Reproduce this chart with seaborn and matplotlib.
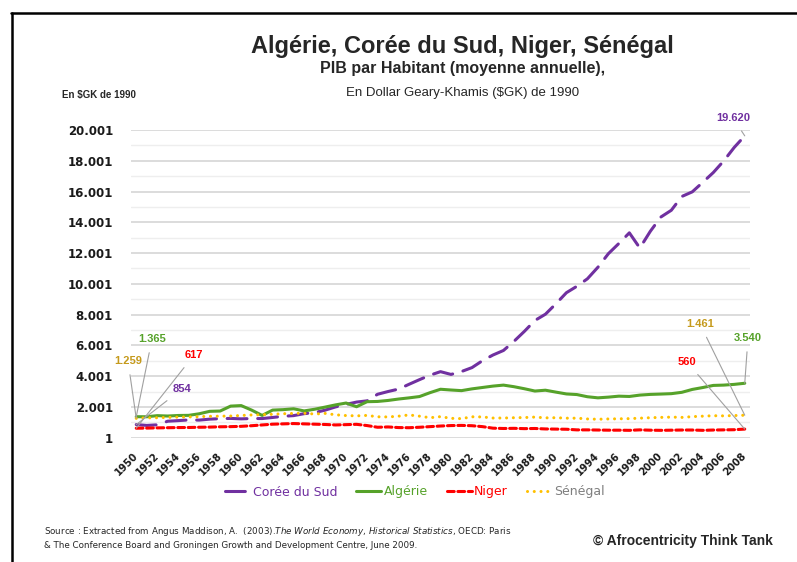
import matplotlib
matplotlib.use("Agg")
import matplotlib.pyplot as plt
from matplotlib.lines import Line2D
import pandas as pd
import seaborn as sns

# PIB par habitant, $GK de 1990, 1950-2008
annees = list(range(1950, 2009))
coree = [854, 799, 838, 1072, 1111, 1157, 1144, 1207, 1238, 1254,
         1226, 1247, 1245, 1316, 1393, 1436, 1563, 1630, 1791, 2003,
         2167, 2317, 2396, 2824, 3002, 3161, 3472, 3775, 4064, 4294,
         4114, 4302, 4557, 5007, 5375, 5670, 6263, 6916, 7621, 8027,
         8704, 9425, 9844, 10328, 11078, 11961, 12626, 13317, 12330, 13418,
         14343, 14784, 15680, 15982, 16602, 17234, 17995, 18872, 19620]
algerie = [1365, 1362, 1434, 1410, 1445, 1454, 1556, 1715, 1735, 2055,
           2088, 1794, 1450, 1796, 1824, 1881, 1742, 1850, 1990, 2134,
           2254, 2014, 2341, 2357, 2422, 2514, 2590, 2676, 2928, 3150,
           3101, 3060, 3175, 3265, 3355, 3419, 3316, 3183, 3034, 3088,
           2964, 2845, 2805, 2664, 2592, 2638, 2701, 2681, 2770, 2815,
           2837, 2863, 2951, 3139, 3262, 3399, 3420, 3467, 3540]
niger = [617, 625, 640, 650, 660, 665, 680, 690, 710, 720,
         740, 780, 830, 880, 900, 920, 900, 880, 860, 830,
         850, 870, 790, 680, 700, 660, 650, 680, 720, 760,
         790, 800, 780, 720, 620, 600, 610, 590, 600, 570,
         560, 550, 510, 510, 500, 490, 490, 480, 510, 490,
         480, 490, 500, 500, 480, 500, 510, 520, 560]
senegal = [1259, 1290, 1300, 1320, 1340, 1350, 1370, 1390, 1400, 1410,
           1445, 1480, 1500, 1520, 1560, 1580, 1590, 1540, 1580, 1490,
           1440, 1420, 1450, 1360, 1350, 1400, 1480, 1400, 1300, 1370,
           1260, 1240, 1360, 1350, 1280, 1280, 1300, 1310, 1340, 1290,
           1300, 1270, 1270, 1220, 1200, 1220, 1230, 1240, 1270, 1300,
           1320, 1340, 1320, 1370, 1400, 1430, 1420, 1440, 1461]

pays = ["Corée du Sud", "Algérie", "Niger", "Sénégal"]
series = [coree, algerie, niger, senegal]
couleurs = ["#7030A0", "#56A22A", "#FF0000", "#FFC000"]
couleurs_texte = ["#7030A0", "#56A22A", "#FF0000", "#7F7F7F"]
styles = [(0, (6.5, 3.5)), "-", (0, (2.2, 1.2)), (0, (0.01, 2.2))]
y_ticks = list(range(1, 20002, 2000))
x_ticks = list(range(1950, 2009, 2))

W, H = 797, 562


def fr(v):
    return f"{v:,.0f}".replace(",", ".")


def pos(x, y):
    return x / W, 1 - y / H


sns.set_theme(style="white")
plt.rcParams["font.family"] = ["DejaVu Sans"]

fig = plt.figure(figsize=(W / 100, H / 100), dpi=100)
ax = fig.add_axes([131 / W, 1 - 437.7 / H, (750 - 131) / W, (437.7 - 130) / H])

df = pd.DataFrame({"annee": annees * 4,
                   "pib": sum(series, []),
                   "pays": sum([[p] * len(annees) for p in pays], [])})

for p, c, ls in zip(pays, couleurs, styles):
    sns.lineplot(data=df[df["pays"] == p], x="annee", y="pib", color=c,
                 linestyle=ls, lw=2.2, ax=ax, zorder=3)
for line in ax.get_lines():
    line.set_dash_capstyle("round")
    line.set_solid_capstyle("round")
    line.set_clip_on(False)

ax.set_xlim(1949.5, 2008.5)
ax.set_ylim(1, 20001)
ax.set_yticks(y_ticks)
ax.set_yticks([v + 1000 for v in y_ticks[:-1]], minor=True)
ax.set_yticklabels([fr(v) for v in y_ticks], fontsize=8.5, fontweight="bold", color="#1a1a1a")
ax.set_xticks(x_ticks)
ax.set_xticklabels([str(a) for a in x_ticks], rotation=45, ha="right", va="center",
                   rotation_mode="anchor", fontsize=7.2, fontweight="bold", color="#1a1a1a")
ax.tick_params(axis="y", which="both", length=0, pad=13)
ax.tick_params(axis="x", length=0, pad=12)
ax.grid(axis="y", which="major", color="#d9d9d9", lw=1.3)
ax.grid(axis="y", which="minor", color="#eeeeee", lw=1.0)
ax.set_xlabel("")
ax.set_ylabel("")
for s in ax.spines.values():
    s.set_visible(False)

# étiquettes de début et de fin
gris = "#a0a0a0"
etiquettes = [
    (0, 0, (182, 389)), (1, 0, (152, 339)), (2, 0, (194, 355)), (3, 0, (128, 361)),
    (0, -1, (733, 118)), (1, -1, (748, 338)), (2, -1, (687, 362)), (3, -1, (700, 324)),
]
for i, k, (tx, ty) in etiquettes:
    v = series[i][k]
    coul = couleurs[i] if i != 3 else "#C59A1C"
    ax.annotate(fr(v), xy=(annees[k], v), xytext=(tx, H - ty), textcoords="figure pixels",
                ha="center", va="center", fontsize=8, fontweight="bold", color=coul,
                family="Liberation Sans",
                arrowprops=dict(arrowstyle="-", color=gris, lw=0.8, shrinkA=4, shrinkB=0))

# titres
fig.text(*pos(462, 46), "Algérie, Corée du Sud, Niger, Sénégal", ha="center", va="center",
         fontsize=17, fontweight="bold", family="Liberation Sans")
fig.text(*pos(463, 69), "PIB par Habitant (moyenne annuelle),", ha="center", va="center",
         fontsize=11.5, fontweight="bold", family="Liberation Sans")
fig.text(*pos(463, 93), "En Dollar Geary-Khamis ($GK) de 1990", ha="center", va="center",
         fontsize=9.5, family="Liberation Sans")
fig.text(*pos(62, 95), "En $GK de 1990", ha="left", va="center",
         fontsize=7, fontweight="bold", family="Liberation Sans")

# légende
poignees = [Line2D([], [], color=c, lw=2.2, linestyle=ls, dash_capstyle="round")
            for c, ls in zip(couleurs, styles)]
leg = fig.legend(poignees, pays, loc="center", bbox_to_anchor=pos(415, 492), ncol=4,
                 frameon=False, fontsize=9, handlelength=2.0, handletextpad=0.2,
                 columnspacing=1.5)
for t, c in zip(leg.get_texts(), couleurs_texte):
    t.set_color(c)

# source
fig.text(*pos(44, 531), "Source : Extracted from Angus Maddison, A.  (2003).$\\it{The\\ World\\ Economy}$, "
         "$\\it{Historical\\ Statistics}$, OECD: Paris", ha="left", va="center", fontsize=6.3,
         family="DejaVu Sans")
fig.text(*pos(44, 545), "& The Conference Board and Groningen Growth and Development Centre, June 2009.",
         ha="left", va="center", fontsize=6.3, family="DejaVu Sans")
fig.text(*pos(773, 541), "© Afrocentricity Think Tank", ha="right", va="center",
         fontsize=10, fontweight="bold", family="Liberation Sans")

# cadre
fig.add_artist(Line2D([11 / W, 1], [1 - 13 / H, 1 - 13 / H], color="black", lw=1.8))
fig.add_artist(Line2D([12 / W, 12 / W], [0, 1 - 13 / H], color="black", lw=1.8))

fig.savefig("out.png", dpi=100)
